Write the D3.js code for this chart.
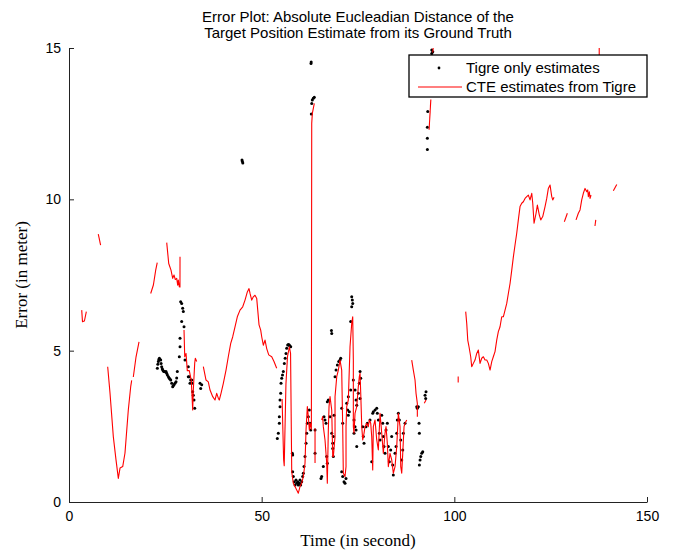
<!DOCTYPE html>
<html>
<head>
<meta charset="utf-8">
<script src="https://cdn.jsdelivr.net/npm/d3@7"></script>
<style>
  body { margin: 0; background: #fff; }
  svg { display: block; }
</style>
</head>
<body>
<div id="chart"></div>
<script>
/* Error plot: Tigre only vs CTE estimates */

const titleLines = [
  "Error Plot: Absolute Eucleadian Distance of the",
  "Target Position Estimate from its Ground Truth"
];
const xTicks = [0, 50, 100, 150];
const yTicks = [0, 5, 10, 15];
const legendLabels = ["Tigre only estimates", "CTE estimates from Tigre"];

// black dots: [time, error]
const tigreDots = [
  [22.93,4.42],[23.05,4.55],[23.19,4.64],[23.3,4.7],[23.45,4.75],[23.6,4.72],[23.79,4.69],[23.9,4.58],[24.05,4.47],
  [24.2,4.4],[24.31,4.36],[24.5,4.33],[24.66,4.31],[24.9,4.3],[25.17,4.31],[25.35,4.25],
  [25.53,4.2],[25.8,4.14],[26.03,4.09],[26.2,4.06],[26.4,4.03],[26.65,3.92],[26.91,3.81],[27.05,3.84],[27.25,3.87],
  [27.5,3.92],[27.77,3.97],[27.95,4.1],[28.11,4.31],
  [28.98,6.62],[29.24,6.56],[29.5,6.4],[29.67,6.29],[29.24,5.96],[29.85,5.79],[28.81,5.41],[28.81,5.13],[28.63,4.8],
  [30.1,4.69],[30.96,4.47],[30.96,4.14],[31.2,4.14],[31.4,3.92],[31.58,4.03],[31.84,4.03],[31.92,3.92],
  [32.1,3.64],[32.26,3.53],[32.44,3.37],[32.62,3.1],[34.0,3.92],[34.18,3.75],[34.44,3.87],
  [44.9,11.3],[45.0,11.25],[45.1,11.2],
  [54.06,2.1],[54.32,2.27],[54.58,2.6],[54.58,2.82],[54.76,3.15],[54.76,3.37],[54.94,3.59],[55.02,3.92],
  [55.2,4.09],[55.4,4.2],[55.62,4.31],[55.88,4.58],[56.1,4.75],[56.32,4.91],[56.5,5.08],[56.76,5.19],[56.95,5.2],
  [57.18,5.19],[57.35,5.15],[57.54,5.13],
  [57.96,1.61],[58.05,1.55],
  [58.05,1.0],[58.21,0.84],[58.47,0.67],[58.66,0.56],[58.91,0.73],[59.1,0.62],[59.36,0.67],[59.51,0.56],
  [59.77,0.62],[59.95,0.73],[60.13,0.56],[60.39,0.67],[60.65,0.84],[60.81,0.95],[60.99,1.17],[61.25,1.5],
  [61.51,1.94],[61.69,2.27],[61.85,2.6],[62.11,2.82],[62.37,3.04],[62.55,2.6],[62.73,2.38],
  [62.81,14.49],[62.85,14.54],[62.89,12.82],[62.99,13.17],[63.15,13.28],[63.41,13.34],[63.66,13.37],
  [63.85,2.38],[63.85,1.61],[65.4,0.78],[65.58,0.84],[66.0,1.17],[66.18,2.82],[66.44,2.71],[66.7,2.6],
  [66.88,1.5],[67.04,1.28],[67.04,3.31],[67.3,3.37],[67.74,2.82],[68.18,2.27],[68.44,1.77],[68.6,1.5],
  [68.18,5.57],[68.1,5.67],[68.44,1.94],[68.6,2.16],[68.78,2.87],
  [69.04,4.14],[69.3,4.36],[69.64,4.53],[70.0,4.64],[70.33,4.69],[70.51,4.75],
  [70.77,1.0],[71.03,0.84],[71.37,0.67],[71.63,0.62],[71.89,0.78],[70.77,3.1],[71.03,2.6],
  [72.07,3.26],[72.33,3.04],[72.49,2.87],[72.49,3.48],[72.75,2.98],[73.11,3.7],
  [73.37,6.78],[73.53,6.67],[73.63,6.56],[73.37,6.45],[73.11,5.96],
  [73.79,4.03],[74.23,3.7],[74.49,3.37],[74.67,3.2],[75.08,3.59],[75.34,3.92],[75.53,4.31],[75.71,4.09],[75.53,3.42],
  [73.97,2.71],[74.23,2.49],[74.49,2.38],[73.97,2.27],[74.67,1.83],
  [76.23,2.49],[76.38,2.16],[76.56,1.94],[77.08,2.49],[77.42,2.6],[78.12,2.71],[78.56,1.33],
  [78.82,2.93],[78.98,2.98],[79.42,3.04],[79.86,3.1],[80.02,2.93],[80.28,2.71],[80.54,2.27],[80.72,2.05],
  [81.16,2.87],[81.42,2.6],[81.57,2.16],[81.75,1.83],[82.01,1.61],[82.27,2.38],[82.61,2.6],[82.87,1.83],
  [83.13,1.33],[83.49,1.72],[83.75,2.16],[84.01,1.22],[84.17,0.89],[84.61,1.61],[84.87,1.83],[85.05,2.27],
  [85.21,2.71],[85.47,2.93],[85.73,2.71],[86.09,2.05],[86.35,1.39],[86.61,1.72],[86.77,2.27],[87.21,2.6],
  [90.24,3.15],[90.4,3.1],[90.66,3.15],[90.84,2.6],[90.92,2.27],[90.92,1.22],[91.1,1.39],[91.28,1.5],
  [91.54,1.61],[91.8,1.66],[92.4,3.53],[92.57,3.42],[92.65,3.64],
  [93.0,11.65],[93.0,12.02],[93.0,12.38],[93.1,12.9],[94.14,14.82],[94.14,14.93],[94.4,14.88]
];

// red line pieces: [time, error], gaps between pieces
const cteSegments = [
  [[3.3,6.34],[3.5,5.96],[4.0,5.98],[4.5,6.29]],
  [[7.6,8.85],[8.2,8.49]],
  [[10.04,4.47],[10.64,3.6],[11.5,2.16],[12.2,1.39],[12.8,0.78],[13.24,1.12],[13.94,1.17],[14.53,1.62],
   [15.39,3.04],[16.01,3.81],[16.27,4.02]],
  [[16.69,4.13],[17.39,4.79],[18.17,5.29]],
  [[21.2,6.89],[21.9,7.17],[22.5,7.66],[22.9,7.91]],
  [[25.36,8.57],[25.88,7.88],[26.47,7.66],[26.91,7.39],[27.25,7.5],[27.59,7.35],[27.95,7.39],[28.21,7.16],
   [28.37,7.33],[28.63,7.11],[28.8,7.1],[28.81,8.1]],
  [[29.85,5.68],[30.03,4.8],[30.37,4.91],[30.7,4.34],[31.22,4.34],[31.74,4.01],[32.1,3.04],[32.26,3.7],
   [32.62,4.58],[32.78,4.75],[33.14,4.64]],
  [[34.86,4.47],[35.56,4.03],[36.15,3.97],[36.6,3.7],[37.3,3.48],[37.89,3.37],[38.33,3.59],[38.75,3.43],
   [39.0,3.37],[39.45,3.59],[40.05,3.92],[40.75,4.36],[41.34,4.8],[41.97,5.24],[42.49,5.46],[43.08,5.79],
   [43.68,6.12],[44.38,6.34],[45.08,6.45],[45.68,6.67],[46.28,6.94],[46.72,7.05],[46.98,6.89],[47.42,6.67],
   [47.83,6.78],[48.27,6.83],[48.72,6.72],[48.98,6.34],[49.32,5.85],[49.75,5.68],[50.01,5.46],[50.43,5.18],
   [50.87,5.35],[51.31,5.07],[51.83,4.86],[52.61,4.8],[53.2,4.64],[53.9,4.42]],
  [[55.3,3.4],[55.7,1.4],[55.85,1.2],[56.3,3.9],[56.7,4.8],[57.2,5.13],[57.5,4.9],[57.8,1.0],
   [58.21,0.62],[59.1,0.4],[59.51,0.29],[59.95,0.51],[60.39,0.62],[60.81,0.84],[61.25,1.28],[61.51,2.38],
   [61.85,3.15],[62.11,2.82],[62.37,2.38],[62.55,2.6],[62.9,2.4],[62.99,12.51],[63.15,12.84],[63.66,13.17]],
  [[63.85,2.44],[63.85,1.29]],
  [[65.58,2.71],[65.84,2.82],[66.0,2.49],[66.44,2.05],[66.88,1.28],[67.04,0.62],[67.3,2.38],[67.48,3.15],
   [67.74,3.48],[68.18,3.04],[68.44,1.5],[68.6,1.5],[69.04,2.16],[69.04,3.48],[69.48,4.14],[69.9,4.36],
   [70.33,4.69],[70.77,4.36],[71.03,2.49],[71.19,0.95],[71.63,0.84],[71.89,1.17],[71.89,2.49],[72.07,3.15],
   [72.49,3.37],[72.93,5.13],[73.37,5.9],[73.63,6.12],[73.79,4.69],[73.79,2.49],[73.97,2.27],[74.23,2.93],
   [74.67,3.15],[75.08,3.81],[75.34,4.14],[75.53,4.25],[75.71,3.59],[75.97,2.49],[76.23,2.05],[76.56,2.27],
   [76.82,2.49],[77.26,2.6],[77.68,2.49],[77.94,2.71],[78.3,2.6],[78.56,2.16],[78.82,1.06],[78.98,2.49],
   [79.42,2.71],[79.86,2.05],[80.28,1.72],[80.72,2.93],[81.16,2.27],[81.57,1.61],[82.01,2.27],[82.27,2.49],
   [82.61,1.94],[82.87,1.17],[83.31,1.61],[83.75,1.39],[84.17,0.95],[84.61,1.17],[85.05,1.83],[85.31,2.49],
   [85.47,2.93],[85.91,2.49],[86.09,1.17],[86.35,0.95],[86.61,1.61],[86.95,2.49],[87.21,2.6],[87.64,2.71]],
  [[88.94,4.69],[89.36,4.36],[89.8,4.03],[90.06,3.59],[90.4,3.26],[90.4,2.82]],
  [[92.2,3.26],[92.65,3.37]],
  [[93.45,12.3],[93.9,13.3]],
  [[94.4,14.85],[94.5,15.0]],
  [[101.0,3.95],[101.0,4.15]],
  [[102.95,6.29],[103.22,5.9],[103.48,5.35],[103.81,5.13],[104.25,4.8],[104.51,4.47],[104.93,4.58],[105.37,4.69],
   [105.81,4.91],[106.23,5.02],[106.67,4.58],[107.11,4.75],[107.53,4.8],[107.97,4.69],[108.41,4.69],[108.83,4.58],
   [109.27,4.36],[109.71,4.64],[110.12,4.8],[110.56,4.97],[111.0,5.35],[111.42,5.63],[111.86,5.79],[112.3,6.12],
   [112.72,6.12],[113.16,6.34],[113.6,6.56],[114.02,6.89],[114.46,7.22],[114.9,7.66],[115.32,8.1],[115.75,8.49],
   [116.19,8.88],[116.61,9.32],[117.05,9.76],[117.49,9.87],[117.91,9.92],[118.35,10.03],[118.79,10.09],[119.21,10.14],
   [119.65,9.98],[120.09,10.2],[120.35,9.87],[120.69,9.21],[121.21,9.54],[121.55,9.81],[122.06,9.48],[122.43,9.32],
   [122.94,9.43],[123.54,9.76],[123.98,10.03],[124.4,10.36],[124.84,10.47],[125.28,10.09],[125.54,9.98],[125.88,10.07]],
  [[128.55,9.26],[129.33,9.54]],
  [[131.58,9.32],[132.18,9.54],[132.62,9.65],[133.06,9.98],[133.48,10.2],[133.92,10.36],[134.36,10.25],
   [134.62,10.31],[134.78,10.09],[135.04,10.25],[135.22,10.03],[135.48,10.14]],
  [[136.5,9.12],[136.7,9.32]],
  [[137.6,14.77],[137.6,15.0]],
  [[141.27,10.28],[142.15,10.49]]
];

const width = 675, height = 551;
const margin = { top: 48, right: 28, bottom: 49, left: 69 };

const svg = d3.select("#chart").append("svg")
  .attr("width", width)
  .attr("height", height);

const x = d3.scaleLinear().domain([0, 150]).range([margin.left, width - margin.right]);
const y = d3.scaleLinear().domain([0, 15]).range([height - margin.bottom, margin.top]);

// title
svg.append("g").selectAll("text")
  .data(titleLines)
  .join("text")
  .attr("x", (x(0) + x(150)) / 2)
  .attr("y", (d, i) => 22 + i * 16)
  .attr("text-anchor", "middle")
  .attr("font-family", "Liberation Sans, Arial, sans-serif")
  .attr("font-size", 15)
  .attr("fill", "#000")
  .text(d => d);

// dots first, red line on top
svg.append("g").selectAll("circle")
  .data(tigreDots)
  .join("circle")
  .attr("cx", d => x(d[0]))
  .attr("cy", d => y(d[1]))
  .attr("r", 1.5)
  .attr("fill", "#000");

const line = d3.line().x(d => x(d[0])).y(d => y(d[1]));
svg.append("g").selectAll("path")
  .data(cteSegments)
  .join("path")
  .attr("d", line)
  .attr("fill", "none")
  .attr("stroke", "#ff0000")
  .attr("stroke-width", 1.1)
  .attr("stroke-linejoin", "round");

// axes
const xAxis = svg.append("g")
  .attr("transform", `translate(0,${y(0)})`)
  .call(d3.axisBottom(x).tickValues(xTicks).tickSizeInner(-5).tickSizeOuter(0).tickPadding(9));
const yAxis = svg.append("g")
  .attr("transform", `translate(${x(0)},0)`)
  .call(d3.axisLeft(y).tickValues(yTicks).tickSizeInner(-5).tickSizeOuter(0).tickPadding(8));

[xAxis, yAxis].forEach(g => {
  g.selectAll("text")
    .attr("font-family", "Liberation Sans, Arial, sans-serif")
    .attr("font-size", 14)
    .attr("fill", "#000");
  g.selectAll("line, path").attr("stroke", "#222");
});

svg.append("text")
  .attr("x", (x(0) + x(150)) / 2)
  .attr("y", 546)
  .attr("text-anchor", "middle")
  .attr("font-family", "Liberation Serif, Times New Roman, serif")
  .attr("font-size", 17)
  .text("Time (in second)");

svg.append("text")
  .attr("transform", `translate(27,${(y(0) + y(15)) / 2}) rotate(-90)`)
  .attr("text-anchor", "middle")
  .attr("font-family", "Liberation Serif, Times New Roman, serif")
  .attr("font-size", 17)
  .text("Error (in meter)");

// legend
const legend = svg.append("g").attr("transform", "translate(409,55)");
legend.append("rect")
  .attr("width", 238)
  .attr("height", 42)
  .attr("fill", "#fff")
  .attr("stroke", "#000")
  .attr("stroke-width", 1.3);
legend.append("circle").attr("cx", 30).attr("cy", 13).attr("r", 1.4).attr("fill", "#000");
legend.append("line")
  .attr("x1", 9).attr("x2", 53).attr("y1", 32).attr("y2", 32)
  .attr("stroke", "#ff0000").attr("stroke-width", 1.1);
legend.selectAll(".lbl")
  .data(legendLabels)
  .join("text")
  .attr("class", "lbl")
  .attr("x", 57)
  .attr("y", (d, i) => 18 + i * 19)
  .attr("font-family", "Liberation Sans, Arial, sans-serif")
  .attr("font-size", 15)
  .text(d => d);
</script>
</body>
</html>
